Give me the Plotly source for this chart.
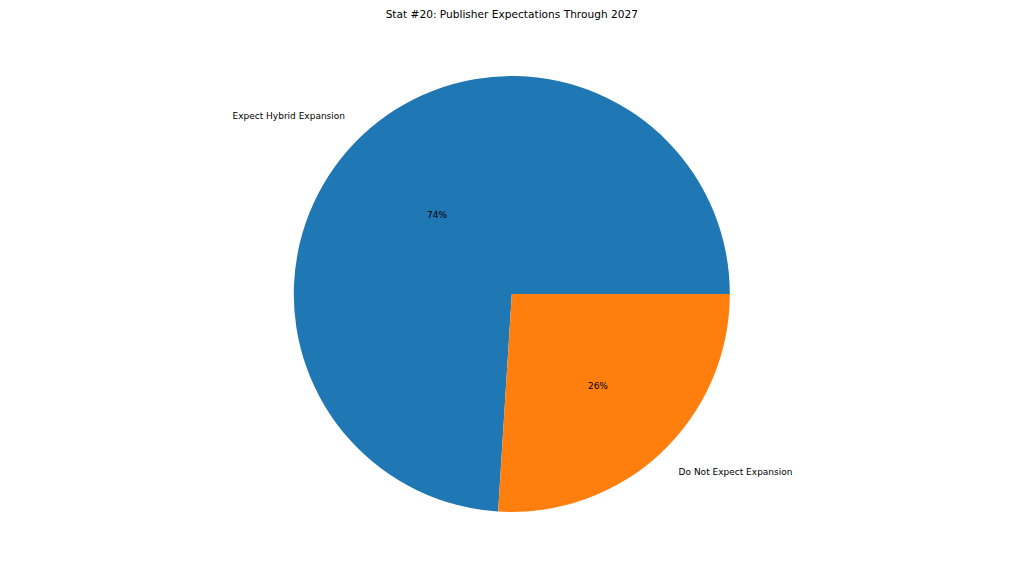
import plotly.graph_objects as go

labels = ["Expect Hybrid Expansion", "Do Not Expect Expansion"]
values = [74, 26]
colors = ["#1f77b4", "#ff7f0e"]

font = "DejaVu Sans"

# matplotlib-style start: first slice begins at 3 o'clock and runs counterclockwise.
# plotly's counterclockwise pies put the END of the first slice at `rotation`.
start = 90 - 360 * values[0] / sum(values)

pie_domain = dict(x=[0.242, 0.742], y=[0.125, 0.882])
# labels sit at 1.1 x radius, like matplotlib's labeldistance
label_domain = dict(x=[0.242, 0.742], y=[0.0868, 0.9201])

# percentages inside the slices
inner = go.Pie(
    labels=labels,
    values=values,
    sort=False,
    direction="counterclockwise",
    rotation=start,
    domain=pie_domain,
    marker=dict(colors=colors),
    textinfo="percent",
    texttemplate="%{percent:.0%}",
    textposition="inside",
    insidetextorientation="horizontal",
    textfont=dict(family=font, size=9, color="black"),
    showlegend=False,
    hoverinfo="label+percent",
)

# category names outside the slices
outer = go.Pie(
    labels=labels,
    values=values,
    sort=False,
    direction="counterclockwise",
    rotation=start,
    domain=label_domain,
    marker=dict(colors=["rgba(0,0,0,0)", "rgba(0,0,0,0)"]),
    textinfo="label",
    textposition="outside",
    textfont=dict(family=font, size=9, color="black"),
    showlegend=False,
    hoverinfo="skip",
)

fig = go.Figure(data=[inner, outer])
fig.update_layout(
    width=1024,
    height=576,
    paper_bgcolor="white",
    plot_bgcolor="white",
    margin=dict(l=0, r=0, t=0, b=0),
    title=dict(
        text="Stat #20: Publisher Expectations Through 2027",
        x=0.492,
        y=1 - 6 / 576,
        xanchor="center",
        yanchor="middle",
        font=dict(family=font, size=10.6, color="black"),
    ),
)

fig.write_html("out.html")
